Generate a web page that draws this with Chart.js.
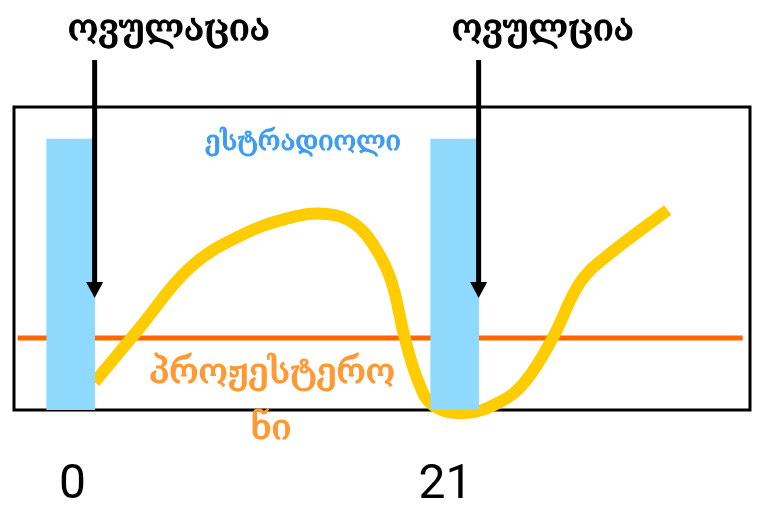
<!DOCTYPE html>
<html>
<head>
<meta charset="utf-8">
<script src="https://cdn.jsdelivr.net/npm/chart.js@4"></script>
<style>
html,body{margin:0;padding:0;background:#fff;}
#wrap{width:760px;height:512px;position:relative;}
</style>
</head>
<body>
<div id="wrap"><canvas id="c" width="760" height="512"></canvas></div>
<script>
// ---- data ----
const barDays = [0, 21];
const estradiolBars = [89.4, 89.4];
const tickLabels = ['0', '21'];
const tickDays = [0.1, 20.5];
const curveX = [1.31, 3.77, 6.51, 9.24, 11.98, 14.0, 15.53, 16.73, 17.55, 18.27, 18.98, 19.80, 21.55, 23.46, 24.83, 26.36, 27.84, 29.20, 32.65];
const curveY = [9.2, 27.1, 46.9, 57.4, 63.4, 64.7, 61.4, 52.8, 42.2, 23.8, 9.9, 1.6, -1.0, 2.6, 9.2, 23.8, 41.9, 50.2, 66.0];
const progX = [-2.9, 36.75];
const progY = [23.8, 23.8];
const ovulationDays = [1.31, 22.31];
const ovulationLabels = ['ოვულაცია', 'ოვულცია'];
const arrowTipY = [37, 37];
const estradiolLabel = 'ესტრადიოლი';
const progLabelLines = ['პროჟესტერო', 'ნი'];

const GEO = '"DejaVu Serif", serif';

function boldText(ctx, txt, x, y, w) {
  ctx.lineWidth = w;
  ctx.lineJoin = 'round';
  ctx.strokeStyle = ctx.fillStyle;
  ctx.strokeText(txt, x, y);
  ctx.fillText(txt, x, y);
}

const overlay = {
  id: 'overlay',
  beforeDatasetsDraw(chart) {
    const {ctx, chartArea: a} = chart;
    ctx.save();
    ctx.strokeStyle = '#000';
    ctx.lineWidth = 3;
    ctx.strokeRect(a.left, a.top, a.right - a.left, a.bottom - a.top);
    ctx.restore();
  },
  afterDatasetsDraw(chart) {
    const {ctx} = chart;
    const xs = chart.scales.x, ys = chart.scales.y;
    ctx.save();
    // arrows + labels
    ovulationDays.forEach((d, i) => {
      const x = xs.getPixelForValue(d);
      const tip = ys.getPixelForValue(arrowTipY[i]);
      ctx.strokeStyle = '#000';
      ctx.fillStyle = '#000';
      ctx.lineWidth = 5;
      ctx.beginPath();
      ctx.moveTo(x, 60);
      ctx.lineTo(x, tip - 14);
      ctx.stroke();
      ctx.beginPath();
      ctx.moveTo(x - 8.5, tip - 16);
      ctx.lineTo(x + 8.5, tip - 16);
      ctx.lineTo(x, tip);
      ctx.closePath();
      ctx.fill();
      ctx.font = '37px ' + GEO;
      ctx.textAlign = 'left';
      ctx.textBaseline = 'alphabetic';
      boldText(ctx, ovulationLabels[i], x - 27, 40, 1.3);
    });
    // series labels
    ctx.textAlign = 'center';
    ctx.fillStyle = '#3d9cf0';
    ctx.font = '27.5px ' + GEO;
    boldText(ctx, estradiolLabel, 303, 150, 1.0);
    ctx.fillStyle = '#ff9933';
    ctx.font = '35.5px ' + GEO;
    boldText(ctx, progLabelLines[0], 272, 383, 1.2);
    boldText(ctx, progLabelLines[1], 271, 439, 1.2);
    // tick labels
    ctx.fillStyle = '#000';
    ctx.font = '48px Roboto';
    tickDays.forEach((d, i) => {
      ctx.fillText(tickLabels[i], xs.getPixelForValue(d), 498);
    });
    ctx.restore();
  }
};

new Chart(document.getElementById('c'), {
  type: 'bar',
  data: {
    datasets: [
      {
        type: 'bar',
        label: 'estradiol',
        data: barDays.map((d, i) => ({x: d, y: estradiolBars[i]})),
        backgroundColor: '#8fd8fe',
        borderWidth: 0,
        barThickness: 48,
        order: 0
      },
      {
        type: 'line',
        label: 'curve',
        data: curveX.map((x, i) => ({x: x, y: curveY[i]})),
        borderColor: '#ffcc00',
        borderWidth: 12,
        borderCapStyle: 'butt',
        borderJoinStyle: 'round',
        tension: 0.4,
        pointRadius: 0,
        fill: false,
        clip: false,
        order: 1
      },
      {
        type: 'line',
        label: 'progesterone',
        data: progX.map((x, i) => ({x: x, y: progY[i]})),
        borderColor: '#ff6600',
        borderWidth: 5,
        borderCapStyle: 'butt',
        pointRadius: 0,
        fill: false,
        order: 2
      }
    ]
  },
  options: {
    responsive: false,
    animation: false,
    events: [],
    layout: {padding: {left: 14, right: 10, top: 107, bottom: 102}},
    plugins: {legend: {display: false}, tooltip: {enabled: false}},
    scales: {
      x: {type: 'linear', min: -3.1, max: 37.15, offset: false, display: false},
      y: {type: 'linear', min: 0, max: 100, display: false}
    }
  },
  plugins: [overlay]
});
</script>
</body>
</html>
